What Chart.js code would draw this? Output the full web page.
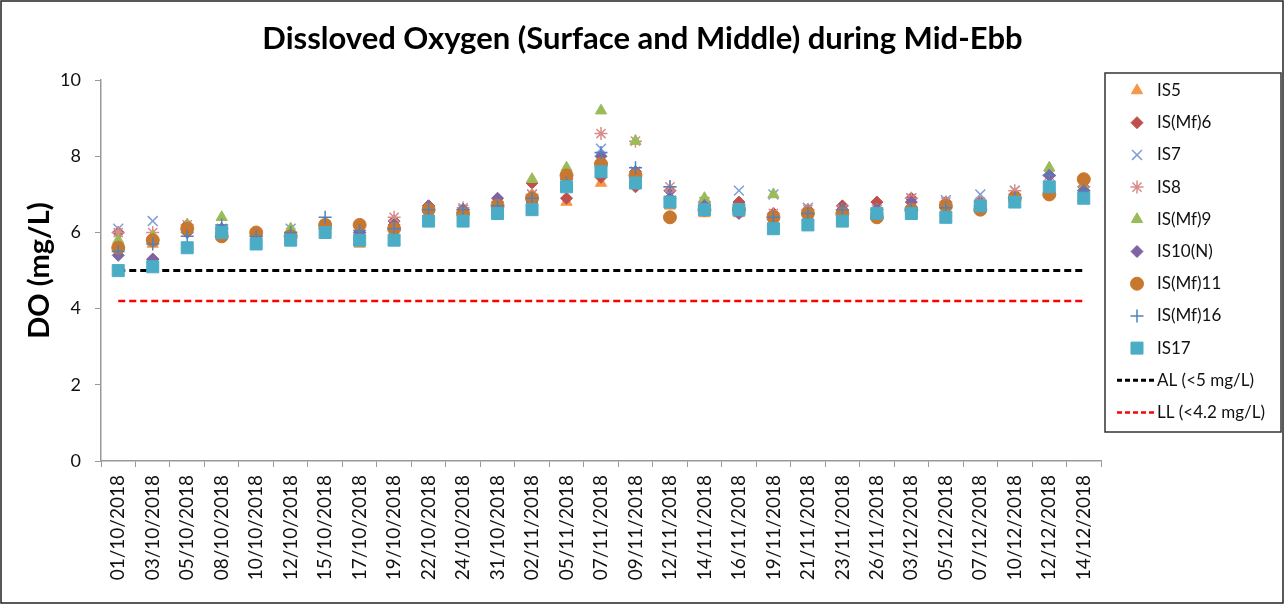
<!DOCTYPE html>
<html>
<head>
<meta charset="utf-8">
<script src="https://cdn.jsdelivr.net/npm/chart.js"></script>
<style>
  html, body { margin: 0; padding: 0; background: #fff; }
</style>
</head>
<body>
<canvas id="doChart" width="1285" height="605"></canvas>
<script>
// sampling dates
const fechas = ['01/10/2018', '03/10/2018', '05/10/2018', '08/10/2018', '10/10/2018', '12/10/2018', '15/10/2018',
  '17/10/2018', '19/10/2018', '22/10/2018', '24/10/2018', '31/10/2018', '02/11/2018', '05/11/2018', '07/11/2018',
  '09/11/2018', '12/11/2018', '14/11/2018', '16/11/2018', '19/11/2018', '21/11/2018', '23/11/2018', '26/11/2018',
  '03/12/2018', '05/12/2018', '07/12/2018', '10/12/2018', '12/12/2018', '14/12/2018'];

// DO values (mg/L) per station
const is5    = [5.7, 5.7, 6.1, 6.0, 5.9, 5.9, 6.1, 5.7, 6.0, 6.5, 6.5, 6.7, 7.0, 6.8, 7.3, 7.4, 6.7, 6.5, 6.5, 6.4, 6.4, 6.5, 6.5, 6.6, 6.6, 6.6, 6.9, 7.1, 7.1];
const isMf6  = [6.0, 5.3, 6.2, 6.0, 5.9, 6.0, 6.1, 6.0, 6.3, 6.7, 6.6, 6.8, 7.3, 6.9, 7.45, 7.2, 7.1, 6.8, 6.8, 6.5, 6.6, 6.7, 6.8, 6.9, 6.8, 6.8, 7.0, 7.5, 7.2];
const is7    = [6.1, 6.3, 6.1, 6.1, 5.9, 6.1, 6.2, 6.1, 6.2, 6.6, 6.6, 6.8, 7.0, 7.4, 8.2, 7.6, 7.0, 6.8, 7.1, 7.0, 6.65, 6.6, 6.6, 6.9, 6.85, 7.0, 7.1, 7.4, 7.1];
const is8    = [6.0, 6.0, 6.2, 6.1, 5.9, 6.0, 6.1, 6.0, 6.4, 6.6, 6.65, 6.8, 7.0, 7.4, 8.6, 8.4, 7.2, 6.8, 6.6, 6.5, 6.6, 6.6, 6.6, 6.9, 6.8, 6.8, 7.1, 7.5, 7.2];
const isMf9  = [5.8, 5.9, 6.2, 6.4, 5.9, 6.1, 6.2, 6.0, 6.2, 6.6, 6.5, 6.7, 7.4, 7.7, 9.2, 8.4, 6.9, 6.9, 6.6, 7.0, 6.5, 6.6, 6.6, 6.6, 6.7, 6.7, 6.9, 7.7, 7.2];
const is10N  = [5.4, 5.3, 6.0, 6.1, 5.9, 5.9, 6.1, 6.0, 6.2, 6.7, 6.6, 6.9, 6.8, 7.4, 8.0, 7.6, 6.9, 6.7, 6.5, 6.2, 6.5, 6.6, 6.6, 6.8, 6.7, 6.7, 6.9, 7.5, 7.1];
const isMf11 = [5.6, 5.8, 6.1, 5.9, 6.0, 5.9, 6.2, 6.2, 6.1, 6.6, 6.5, 6.7, 6.9, 7.5, 7.8, 7.5, 6.4, 6.6, 6.6, 6.4, 6.5, 6.5, 6.4, 6.6, 6.7, 6.6, 6.9, 7.0, 7.4];
const isMf16 = [5.5, 5.7, 5.9, 6.2, 5.9, 6.0, 6.4, 6.05, 6.1, 6.6, 6.6, 6.7, 6.9, 7.3, 8.1, 7.7, 7.2, 6.7, 6.6, 6.4, 6.5, 6.6, 6.5, 6.6, 6.65, 6.7, 6.9, 7.5, 7.1];
const is17   = [5.0, 5.1, 5.6, 6.0, 5.7, 5.8, 6.0, 5.8, 5.8, 6.3, 6.3, 6.5, 6.6, 7.2, 7.6, 7.3, 6.8, 6.6, 6.6, 6.1, 6.2, 6.3, 6.5, 6.5, 6.4, 6.7, 6.8, 7.2, 6.9];

// limit levels
const nivelAL = 5;
const nivelLL = 4.2;
const ticksY = [0, 2, 4, 6, 8, 10];

const fuente = 'Lato, "Open Sans", sans-serif';

function marcador(label, data, style, color, radius, bw, orden) {
  return {
    label: label, data: data, showLine: false, yAxisID: 'y',
    pointStyle: style, pointRadius: radius, pointHoverRadius: radius,
    backgroundColor: color, borderColor: color, pointBorderWidth: bw, borderWidth: bw,
    order: orden
  };
}

function limite(label, valor, color, width) {
  return {
    label: label, data: fechas.map(() => valor), yAxisID: 'y',
    borderColor: color, backgroundColor: color, borderWidth: width, borderDash: [7, 4],
    pointRadius: 0, fill: false, order: 20
  };
}

const datasets = [
  marcador('IS5', is5, 'triangle', '#F79646', 6.5, 1, 9),
  marcador('IS(Mf)6', isMf6, 'rectRot', '#C0504D', 6, 1, 8),
  marcador('IS7', is7, 'crossRot', '#7F9FD8', 7, 1.5, 7),
  marcador('IS8', is8, 'star', '#D98C8A', 6.5, 1.5, 6),
  marcador('IS(Mf)9', isMf9, 'triangle', '#9BBB59', 6.5, 1, 5),
  marcador('IS10(N)', is10N, 'rectRot', '#8064A2', 6, 1, 4),
  marcador('IS(Mf)11', isMf11, 'circle', '#C8782E', 6.5, 1, 3),
  marcador('IS(Mf)16', isMf16, 'cross', '#4F81BD', 6.5, 1.5, 2),
  marcador('IS17', is17, 'rect', '#4BACC6', 8.5, 1, 1),
  limite('AL (<5 mg/L)', nivelAL, '#000000', 3),
  limite('LL (<4.2 mg/L)', nivelLL, '#FF0000', 2.5)
];

const fondo = {
  id: 'fondo',
  beforeDraw(chart) {
    const ctx = chart.ctx;
    ctx.save();
    ctx.fillStyle = '#fff';
    ctx.fillRect(0, 0, chart.width, chart.height);
    ctx.restore();
  },
  afterDraw(chart) {
    const ctx = chart.ctx;
    ctx.save();
    ctx.strokeStyle = '#222';
    ctx.lineWidth = 1.5;
    ctx.strokeRect(1, 1, 1282, 602);
    ctx.restore();
  }
};

const leyenda = {
  id: 'leyenda',
  afterDraw(chart) {
    const ctx = chart.ctx;
    ctx.save();
    ctx.strokeStyle = '#333';
    ctx.lineWidth = 1.5;
    ctx.strokeRect(1105, 73, 176, 359);
    ctx.font = '17px ' + fuente;
    ctx.textBaseline = 'middle';
    chart.data.datasets.forEach((ds, i) => {
      const y = 90.5 + i * 32.2;
      if (ds.showLine === false) {
        ctx.fillStyle = ds.backgroundColor;
        ctx.strokeStyle = ds.borderColor;
        ctx.lineWidth = ds.borderWidth;
        Chart.helpers.drawPoint(ctx, {
          pointStyle: ds.pointStyle, radius: ds.pointRadius, rotation: 0, borderWidth: ds.borderWidth
        }, 1137, y);
      } else {
        ctx.strokeStyle = ds.borderColor;
        ctx.lineWidth = ds.borderWidth;
        ctx.setLineDash([5, 3]);
        ctx.beginPath();
        ctx.moveTo(1117, y);
        ctx.lineTo(1154, y);
        ctx.stroke();
        ctx.setLineDash([]);
      }
      ctx.fillStyle = '#111';
      ctx.fillText(ds.label, 1157, y);
    });
    ctx.restore();
  }
};

new Chart(document.getElementById('doChart').getContext('2d'), {
  type: 'line',
  data: { labels: fechas, datasets: datasets },
  options: {
    responsive: false,
    animation: false,
    layout: { padding: 0 },
    plugins: {
      legend: { display: false },
      tooltip: { enabled: false },
      title: {
        display: true,
        text: 'Dissloved Oxygen (Surface and Middle) during Mid-Ebb',
        color: '#000',
        font: { family: fuente, size: 31, weight: 'bold' },
        padding: { top: 20, bottom: 23 }
      }
    },
    scales: {
      x: {
        offset: true,
        grid: { offset: true, drawOnChartArea: false, drawTicks: true, tickLength: 6, color: '#999' },
        border: { color: '#999', width: 1.5 },
        ticks: { autoSkip: false, minRotation: 90, maxRotation: 90, padding: 8, color: '#111',
                 font: { family: fuente, size: 19 } },
        afterFit(scale) { scale.height = 144; }
      },
      y: {
        min: 0, max: 10,
        afterBuildTicks(scale) { scale.ticks = ticksY.map(v => ({ value: v })); },
        grid: { drawOnChartArea: false, drawTicks: true, tickLength: 6, color: '#999' },
        border: { color: '#999', width: 1.5 },
        ticks: { padding: 14, color: '#111', font: { family: fuente, size: 18 } },
        title: { display: true, text: 'DO (mg/L)', color: '#000', padding: { top: 22, bottom: 0 },
                 font: { family: fuente, size: 29, weight: 'bold' } },
        afterFit(scale) { scale.width = 101; }
      },
      // empty space on the right for the legend box
      hueco: {
        position: 'right',
        grid: { display: false },
        border: { display: false },
        ticks: { display: false },
        afterFit(scale) { scale.width = 184; }
      }
    }
  },
  plugins: [fondo, leyenda]
});
</script>
</body>
</html>
